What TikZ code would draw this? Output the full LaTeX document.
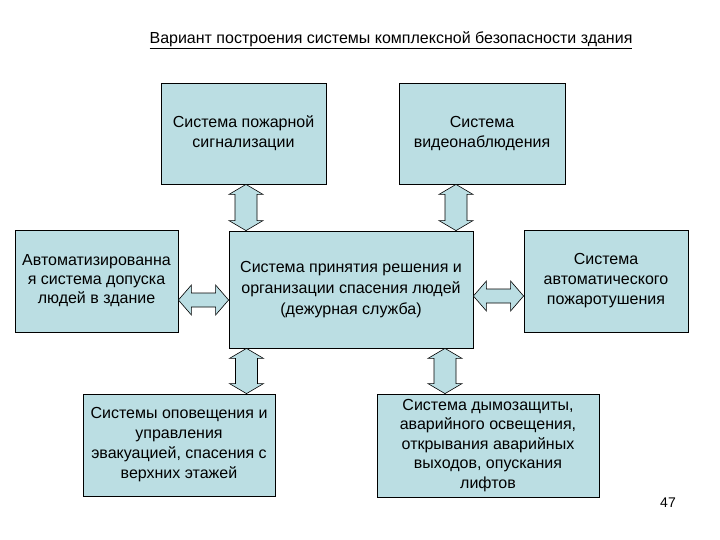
\documentclass[tikz,border=0pt]{standalone}
\usepackage{fontspec}
\setmainfont{Liberation Sans}
\usetikzlibrary{calc}
\definecolor{boxfill}{RGB}{187,222,227}
\tikzset{
  box/.style={draw=black, line width=0.8pt, fill=boxfill, inner sep=0pt, align=center,
    font=\fontsize{16}{20}\selectfont},
  arr/.style={draw=black, line width=0.6pt, fill=boxfill},
}
\newcommand\vdarr[3]{% x, upper node, lower node
  \path[arr] let \p1=(#1,0 |- #2.south), \p2=(#1,0 |- #3.north) in
   (\x1,\y1) -- (\x1+17pt,\y1-10pt) -- (\x1+11pt,\y1-10pt) -- (\x1+11pt,\y2+10pt)
   -- (\x1+17pt,\y2+10pt) -- (\x2,\y2) -- (\x1-17pt,\y2+10pt) -- (\x1-11pt,\y2+10pt)
   -- (\x1-11pt,\y1-10pt) -- (\x1-17pt,\y1-10pt) -- cycle;}
\newcommand\hdarr[3]{% y, left node, right node
  \path[arr] let \p1=(#2.east |- 0,#1), \p2=(#3.west |- 0,#1) in
   (\x1,\y1) -- (\x1+13pt,\y1+15pt) -- (\x1+13pt,\y1+7pt) -- (\x2-13pt,\y1+7pt)
   -- (\x2-13pt,\y1+15pt) -- (\x2,\y2) -- (\x2-13pt,\y1-15pt) -- (\x2-13pt,\y1-7pt)
   -- (\x1+13pt,\y1-7pt) -- (\x1+13pt,\y1-15pt) -- cycle;}
\begin{document}
\begin{tikzpicture}[x=1pt,y=-1pt]
\useasboundingbox (0,0) rectangle (720,540);
\node[font=\fontsize{16}{19}\selectfont] (title) at (391,40) {\underline{Вариант построения системы комплексной безопасности здания}};
\node[box, minimum width=165pt, minimum height=101pt] (fire) at (243.5,133.5) {Система пожарной\\сигнализации};
\node[box, minimum width=166pt, minimum height=101pt] (video) at (482,133.5) {Система\\видеонаблюдения};
\node[box, minimum width=163pt, minimum height=102pt, font=\fontsize{16}{19}\selectfont] (access) at (96.5,281) {Автоматизированна\\я система допуска\\людей в здание};
\node[box, minimum width=244pt, minimum height=117pt, font=\fontsize{16}{21}\selectfont] (center) at (351,289.5) {Система принятия решения и\\организации спасения людей\\(дежурная служба)};
\node[box, minimum width=164pt, minimum height=102pt] (ext) at (606,281) {Система\\автоматического\\пожаротушения};
\node[box, minimum width=192pt, minimum height=102pt, font=\fontsize{16}{20}\selectfont] (evac) at (179,445) {Системы оповещения и\\управления\\эвакуацией, спасения с\\верхних этажей};
\node[box, minimum width=222pt, minimum height=103pt, font=\fontsize{16}{19.5}\selectfont] (smoke) at (488,445.5) {Система дымозащиты,\\аварийного освещения,\\открывания аварийных\\выходов, опускания\\лифтов};
\node[font=\fontsize{14}{17}\selectfont] (page) at (668,503) {47};
\vdarr{246}{fire}{center}
\vdarr{456}{video}{center}
\vdarr{246.5}{center}{evac}
\vdarr{445}{center}{smoke}
\hdarr{300}{access}{center}
\hdarr{296}{center}{ext}
\end{tikzpicture}
\end{document}
